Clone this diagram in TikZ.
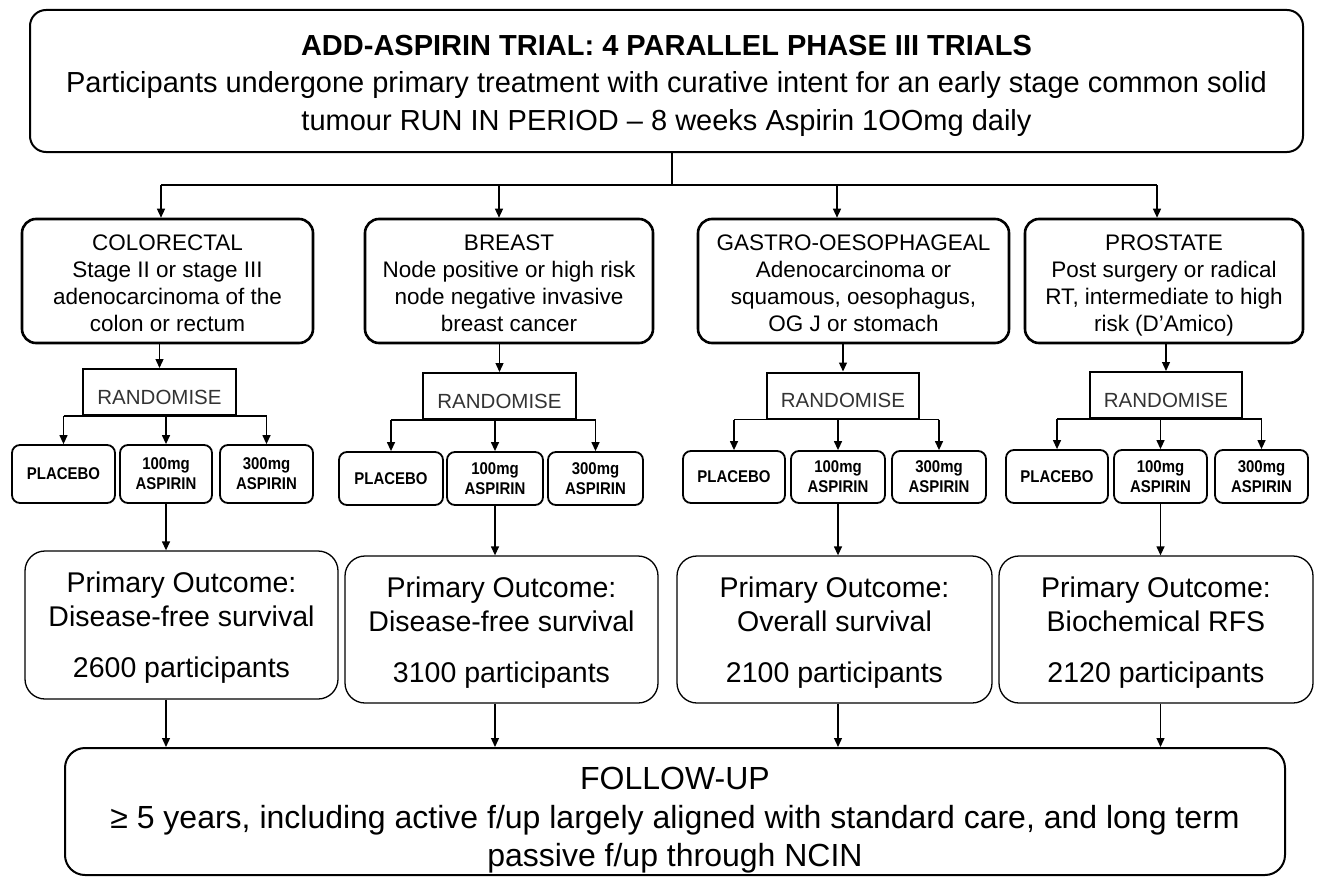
\documentclass[tikz,border=0pt]{standalone}
\usepackage{fontspec}
\setmainfont{Liberation Sans}
\newfontfamily\narrowfont[FakeStretch=0.88]{Liberation Sans}
\usetikzlibrary{arrows.meta}
\newcommand\myup[1]{\rule{0pt}{#1}}
\newcommand\mydn[1]{\rule[-#1]{0pt}{0pt}}

\begin{document}
\begin{tikzpicture}[x=1pt,y=-1pt,
  box/.style={draw, align=center, inner sep=0pt, anchor=center},
  topbox/.style={box, line width=2pt, rounded corners=16pt, font=\fontsize{29}{37.5}\selectfont},
  catbox/.style={box, line width=2.6pt, rounded corners=14pt, font=\fontsize{22.5}{27}\selectfont},
  randbox/.style={box, line width=2pt, font=\fontsize{20.5}{24}\selectfont, text=black!80},
  armbox/.style={box, line width=1.8pt, rounded corners=8pt, font=\narrowfont\bfseries\fontsize{17}{20}\selectfont},
  outbox/.style={box, line width=1.3pt, rounded corners=20pt, font=\fontsize{28.5}{34}\selectfont},
  fubox/.style={box, line width=2pt, rounded corners=20pt, font=\fontsize{32}{38.5}\selectfont},
  conn/.style={line width=1.3pt},
  arr/.style={conn, -{Triangle[length=9pt,width=8pt]}},
]
\useasboundingbox (0,0) rectangle (1319,880);

% top box
\node[topbox, minimum width=1273pt, minimum height=142pt] (top) at (666.5,81)
  {\myup{31pt}{\bfseries ADD-ASPIRIN TRIAL: 4 PARALLEL PHASE III TRIALS}\\
   Participants undergone primary treatment with curative intent for an early stage common solid\\
   tumour RUN IN PERIOD – 8 weeks Aspirin 1OOmg daily\mydn{7pt}};

% category boxes
\node[catbox, minimum width=291pt, minimum height=124pt] (c1) at (167.5,281)
  {\myup{25pt}COLORECTAL\\Stage II or stage III\\adenocarcinoma of the\\colon or rectum\mydn{6pt}};
\node[catbox, minimum width=288pt, minimum height=124pt] (c2) at (509,281)
  {\myup{25pt}BREAST\\Node positive or high risk\\node negative invasive\\breast cancer\mydn{6pt}};
\node[catbox, minimum width=311pt, minimum height=124pt] (c3) at (853.5,281)
  {\myup{25pt}GASTRO-OESOPHAGEAL\\Adenocarcinoma or\\squamous, oesophagus,\\OG J or stomach\mydn{6pt}};
\node[catbox, minimum width=278pt, minimum height=124pt] (c4) at (1164,281)
  {\myup{25pt}PROSTATE\\Post surgery or radical\\RT, intermediate to high\\risk (D’Amico)\mydn{6pt}};

% randomise boxes
\node[randbox, minimum width=153pt, minimum height=46pt] (r1) at (159.5,392) {\myup{26pt}RANDOMISE\mydn{1.4pt}};
\node[randbox, minimum width=153pt, minimum height=46pt] (r2) at (499.5,396) {\myup{26pt}RANDOMISE\mydn{1.4pt}};
\node[randbox, minimum width=152pt, minimum height=46pt] (r3) at (843,395.5) {\myup{26pt}RANDOMISE\mydn{1.4pt}};
\node[randbox, minimum width=152pt, minimum height=46pt] (r4) at (1166,395) {\myup{26pt}RANDOMISE\mydn{1.4pt}};

% arm boxes
\node[armbox, minimum width=103pt, minimum height=58pt] (p1) at (63.5,474) {PLACEBO};
\node[armbox, minimum width=92pt, minimum height=58pt] (m1) at (166,474) {100mg\\ASPIRIN};
\node[armbox, minimum width=93pt, minimum height=58pt] (t1) at (266.5,474) {300mg\\ASPIRIN};

\node[armbox, minimum width=104pt, minimum height=53pt] (p2) at (391,478.5) {PLACEBO};
\node[armbox, minimum width=96pt, minimum height=53pt] (m2) at (495,478.5) {100mg\\ASPIRIN};
\node[armbox, minimum width=95pt, minimum height=53pt] (t2) at (595.5,478.5) {300mg\\ASPIRIN};

\node[armbox, minimum width=102pt, minimum height=52pt] (p3) at (734,477) {PLACEBO};
\node[armbox, minimum width=94pt, minimum height=52pt] (m3) at (838,477) {100mg\\ASPIRIN};
\node[armbox, minimum width=94pt, minimum height=52pt] (t3) at (939,477) {300mg\\ASPIRIN};

\node[armbox, minimum width=102pt, minimum height=53pt] (p4) at (1057,476.5) {PLACEBO};
\node[armbox, minimum width=93pt, minimum height=53pt] (m4) at (1160.5,476.5) {100mg\\ASPIRIN};
\node[armbox, minimum width=93pt, minimum height=53pt] (t4) at (1261.5,476.5) {300mg\\ASPIRIN};

% outcome boxes
\node[outbox, minimum width=313pt, minimum height=148pt] (o1) at (181.5,625)
  {\myup{27pt}Primary Outcome:\\Disease-free survival\\[17pt]2600 participants\mydn{7pt}};
\node[outbox, minimum width=313pt, minimum height=147pt] (o2) at (501.5,629.5)
  {\myup{27pt}Primary Outcome:\\Disease-free survival\\[17pt]3100 participants\mydn{7pt}};
\node[outbox, minimum width=315pt, minimum height=147pt] (o3) at (834.5,629.5)
  {\myup{27pt}Primary Outcome:\\Overall survival\\[17pt]2100 participants\mydn{7pt}};
\node[outbox, minimum width=314pt, minimum height=147pt] (o4) at (1156,629.5)
  {\myup{27pt}Primary Outcome:\\Biochemical RFS\\[17pt]2120 participants\mydn{7pt}};

% follow-up
\node[fubox, minimum width=1220pt, minimum height=127pt] (fu) at (675,811.5)
  {\myup{41pt}FOLLOW-UP\\≥ 5 years, including active f/up largely aligned with standard care, and long term\\passive f/up through NCIN\mydn{8pt}};

% connectors: top to categories
\coordinate (j) at (672,185);
\coordinate (h1) at (161,185);
\coordinate (h2) at (499,185);
\coordinate (h3) at (837,185);
\coordinate (h4) at (1157,185);
\draw[conn] (top.south -| j) -- (j);
\draw[conn] (h1) -- (h4);
\draw[arr] (h1) -- (h1 |- c1.north);
\draw[arr] (h2) -- (h2 |- c2.north);
\draw[arr] (h3) -- (h3 |- c3.north);
\draw[arr] (h4) -- (h4 |- c4.north);

% categories to randomise, arms, outcomes, follow-up
\foreach \i in {1,2,3,4}{
  \draw[arr] (c\i.south -| r\i.north) -- (r\i.north);
  \draw[conn] (p\i.north |- r\i.south) -- (t\i.north |- r\i.south);
  \draw[arr] (p\i.north |- r\i.south) -- (p\i.north);
  \draw[arr] (m\i.north |- r\i.south) -- (m\i.north);
  \draw[arr] (t\i.north |- r\i.south) -- (t\i.north);
  \draw[arr] (m\i.south) -- (m\i.south |- o\i.north);
  \draw[arr] (m\i.south |- o\i.south) -- (m\i.south |- fu.north);
}
\end{tikzpicture}
\end{document}
